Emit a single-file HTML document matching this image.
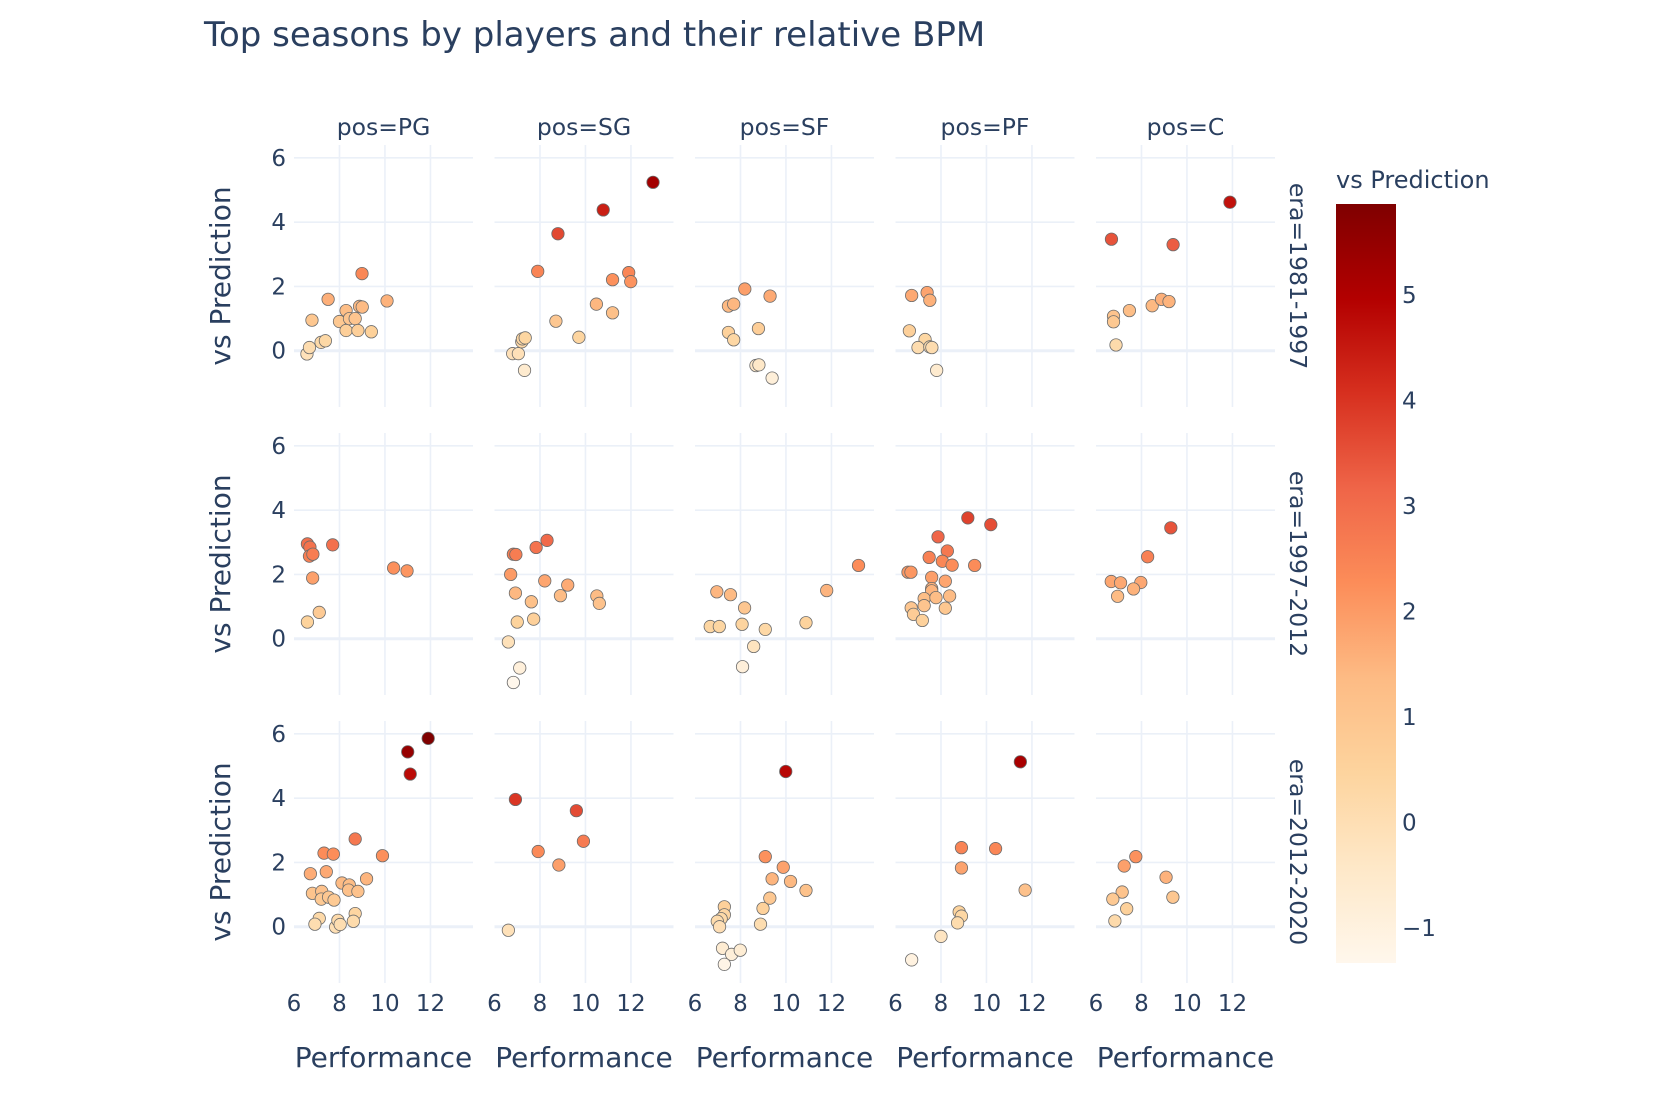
<!DOCTYPE html>
<html><head><meta charset="utf-8"><style>
html,body{margin:0;padding:0;background:#fff;}
svg{display:block;font-family:"DejaVu Sans","Liberation Sans",sans-serif;}
</style></head><body>
<svg id="chart" width="1654" height="1106" viewBox="0 0 1654 1106" xmlns="http://www.w3.org/2000/svg">
<defs>
<linearGradient id="cbgrad" x1="0" y1="1" x2="0" y2="0">
<stop offset="0" stop-color="#fff7ec"/><stop offset="0.125" stop-color="#fee8c8"/><stop offset="0.25" stop-color="#fdd49e"/><stop offset="0.375" stop-color="#fdbb84"/><stop offset="0.5" stop-color="#fc8d59"/><stop offset="0.625" stop-color="#ef6548"/><stop offset="0.75" stop-color="#d7301f"/><stop offset="0.875" stop-color="#b30000"/><stop offset="1" stop-color="#7f0000"/>
</linearGradient>
</defs>
<text x="204" y="46" font-size="34" fill="#2a3f5f">Top seasons by players and their relative BPM</text>
<g id="grid"></g><g id="marks"></g><g id="labels"></g>
<rect x="1336" y="204" width="60" height="759" fill="url(#cbgrad)"/>
<text x="1336" y="188" font-size="24" fill="#2a3f5f">vs Prediction</text>
<g id="cbticks"></g>
</svg>
<script>
const positions = ["PG","SG","SF","PF","C"];
const eras = ["1981-1997","1997-2012","2012-2020"];
const xTicks = [6,8,10,12];
const yTicks = [0,2,4,6];
const cbTicks = [-1,0,1,2,3,4,5];

const pg81X=[6.57,6.68,6.79,7.19,7.38,7.5,8.0,8.29,8.29,8.44,8.69,8.81,8.88,9.0,8.99,9.4,10.09];
const pg81Y=[-0.1,0.1,0.95,0.26,0.31,1.6,0.91,1.25,0.63,1.0,1.0,0.63,1.38,1.36,2.4,0.59,1.55];
const sg81X=[6.8,7.05,7.2,7.23,7.35,7.32,7.9,8.7,8.79,9.71,10.48,10.78,11.19,11.19,11.9,11.99,12.97];
const sg81Y=[-0.09,-0.09,0.28,0.37,0.4,-0.61,2.47,0.92,3.64,0.42,1.45,4.38,2.21,1.18,2.43,2.15,5.24];
const sf81X=[8.19,9.3,7.47,7.7,7.47,7.7,8.79,8.68,8.81,9.39];
const sf81Y=[1.92,1.7,1.39,1.45,0.57,0.34,0.69,-0.46,-0.44,-0.85];
const pf81X=[6.71,7.39,7.51,6.61,7.3,6.99,7.51,7.6,7.81];
const pf81Y=[1.72,1.81,1.57,0.62,0.35,0.1,0.12,0.1,-0.61];
const c81X=[6.68,9.39,11.89,6.77,6.77,6.88,7.47,8.47,8.88,9.21];
const c81Y=[3.47,3.3,4.62,1.07,0.9,0.18,1.25,1.4,1.6,1.53];

const pg97X=[6.59,6.7,6.68,6.83,6.82,7.7,6.59,7.11,10.38,10.97];
const pg97Y=[2.95,2.85,2.57,2.63,1.89,2.92,0.52,0.82,2.2,2.11];
const sg97X=[6.83,6.94,6.71,7.83,8.31,6.92,7.62,8.21,9.22,8.9,10.5,10.61,7.0,7.72,6.61,7.11,6.83];
const sg97Y=[2.63,2.62,2.0,2.84,3.06,1.42,1.15,1.8,1.67,1.34,1.33,1.1,0.52,0.61,-0.1,-0.91,-1.36];
const sf97X=[6.96,7.56,8.18,6.67,7.07,8.07,9.09,8.58,8.09,10.88,11.79,13.19];
const sf97Y=[1.46,1.37,0.96,0.38,0.38,0.45,0.29,-0.24,-0.87,0.5,1.5,2.28];
const pf97X=[9.18,10.19,7.87,8.28,7.48,8.06,8.49,9.48,6.55,6.68,7.59,8.19,7.59,7.59,7.26,7.78,8.38,6.69,7.26,8.19,6.79,7.18];
const pf97Y=[3.76,3.55,3.17,2.73,2.53,2.41,2.29,2.28,2.07,2.07,1.91,1.79,1.56,1.49,1.25,1.28,1.33,0.96,1.03,0.95,0.76,0.57];
const c97X=[9.29,8.27,6.67,7.08,7.97,7.65,6.95];
const c97Y=[3.45,2.55,1.78,1.74,1.75,1.55,1.32];

const pg12X=[11.9,11.0,11.11,8.69,7.32,7.73,9.89,6.72,7.42,9.19,8.11,8.43,8.4,8.81,6.81,7.22,7.2,7.52,7.76,8.69,8.61,7.11,6.92,7.83,7.93,8.03];
const pg12Y=[5.86,5.44,4.75,2.73,2.29,2.26,2.21,1.65,1.71,1.49,1.36,1.3,1.14,1.1,1.04,1.1,0.86,0.92,0.83,0.41,0.17,0.26,0.08,-0.01,0.2,0.07];
const sg12X=[6.92,9.6,9.91,7.92,8.83,6.61];
const sg12Y=[3.96,3.61,2.66,2.34,1.92,-0.11];
const sf12X=[9.99,9.09,9.88,9.39,10.2,10.88,9.29,8.99,8.88,7.29,7.29,7.15,6.98,7.08,7.21,7.61,7.99,7.29];
const sf12Y=[4.83,2.18,1.85,1.49,1.41,1.13,0.89,0.57,0.08,0.62,0.37,0.25,0.17,0.0,-0.67,-0.86,-0.73,-1.17];
const pf12X=[11.49,8.9,10.4,8.9,11.7,8.8,8.9,8.73,8.0,6.71];
const pf12Y=[5.13,2.46,2.43,1.83,1.14,0.46,0.33,0.12,-0.3,-1.03];
const c12X=[7.75,7.24,9.08,9.38,7.15,6.74,7.35,6.83];
const c12Y=[2.18,1.89,1.54,0.92,1.08,0.86,0.56,0.18];

const panelX=[[pg81X,sg81X,sf81X,pf81X,c81X],[pg97X,sg97X,sf97X,pf97X,c97X],[pg12X,sg12X,sf12X,pf12X,c12X]];
const panelY=[[pg81Y,sg81Y,sf81Y,pf81Y,c81Y],[pg97Y,sg97Y,sf97Y,pf97Y,c97Y],[pg12Y,sg12Y,sf12Y,pf12Y,c12Y]];

const NS="http://www.w3.org/2000/svg";
const colLeft=[294,494.5,695,895.5,1096], rowTop=[145,433,721];
const PW=179, PH=262, XMIN=6, XMAX=13.87, YMIN=-1.75, YMAX=6.4;
const CMIN=-1.33, CMAX=5.86, CB_TOP=204, CB_BOT=963;
const stops=["#fff7ec","#fee8c8","#fdd49e","#fdbb84","#fc8d59","#ef6548","#d7301f","#b30000","#7f0000"];
function xs(c,v){return colLeft[c]+(v-XMIN)/(XMAX-XMIN)*PW;}
function ys(r,v){return rowTop[r]+(YMAX-v)/(YMAX-YMIN)*PH;}
function hex(h){return [1,3,5].map(i=>parseInt(h.substr(i,2),16));}
function color(v){let t=Math.max(0,Math.min(1,(v-CMIN)/(CMAX-CMIN)))*(stops.length-1);let i=Math.min(stops.length-2,Math.floor(t));let f=t-i;let a=hex(stops[i]),b=hex(stops[i+1]);return "rgb("+a.map((x,k)=>Math.round(x+(b[k]-x)*f)).join(",")+")";}
function mk(tag,attrs,parent,text){const e=document.createElementNS(NS,tag);for(const k in attrs)e.setAttribute(k,attrs[k]);if(text!==undefined)e.textContent=text;parent.appendChild(e);return e;}
const grid=document.getElementById("grid"),marks=document.getElementById("marks"),labels=document.getElementById("labels"),cbt=document.getElementById("cbticks");
const TC="#2a3f5f";
for(let r=0;r<3;r++){for(let c=0;c<5;c++){
  const L=colLeft[c],T=rowTop[r];
  xTicks.forEach(t=>{if(t===XMIN)return;const l=mk("line",{x1:xs(c,t),x2:xs(c,t),y1:T,y2:T+PH,stroke:"#ebf0f8","stroke-width":1.6},grid);
    
    });
  yTicks.forEach(t=>{const l=mk("line",{x1:L,x2:L+PW,y1:ys(r,t),y2:ys(r,t),stroke:"#ebf0f8","stroke-width":t===0?3:1.6},grid);
    
    });
  const xa=panelX[r][c],ya=panelY[r][c];
  for(let i=0;i<xa.length;i++){
    const p=mk("circle",{cx:xs(c,xa[i]),cy:ys(r,ya[i]),r:6.2,fill:color(ya[i]),stroke:"#6b6b6b","stroke-width":0.8},marks);
    
    
  }
  if(c===0){yTicks.forEach(t=>{const e=mk("text",{x:L-8,y:ys(r,t)+8,"font-size":23,fill:TC,"text-anchor":"end"},labels,String(t));
    
    });
    const yt=mk("text",{x:0,y:0,"font-size":28,fill:TC,"text-anchor":"middle",transform:"translate(230,"+(T+PH/2)+") rotate(-90)"},labels,"vs Prediction");
    
    }
  if(r===2){xTicks.forEach(t=>{const e=mk("text",{x:xs(c,t),y:1011,"font-size":23,fill:TC,"text-anchor":"middle"},labels,String(t));
    
    });
    const xt=mk("text",{x:L+PW/2,y:1067,"font-size":28,fill:TC,"text-anchor":"middle"},labels,"Performance");
    
    }
  if(r===0){const h=mk("text",{x:L+PW/2,y:135,"font-size":23.5,fill:TC,"text-anchor":"middle"},labels,"pos="+positions[c]);
    
    }
  if(c===4){const e=mk("text",{x:0,y:0,"font-size":23.5,fill:TC,"text-anchor":"middle",transform:"translate(1290,"+(T+PH/2)+") rotate(90)"},labels,"era="+eras[r]);
    
    }
}}
cbTicks.forEach(t=>{const y=CB_BOT-(t-CMIN)/(CMAX-CMIN)*(CB_BOT-CB_TOP);
  const e=mk("text",{x:1402,y:y+8,"font-size":23,fill:TC},cbt,t<0?"\u2212"+Math.abs(t):String(t));
  
  });
</script>
</body></html>
